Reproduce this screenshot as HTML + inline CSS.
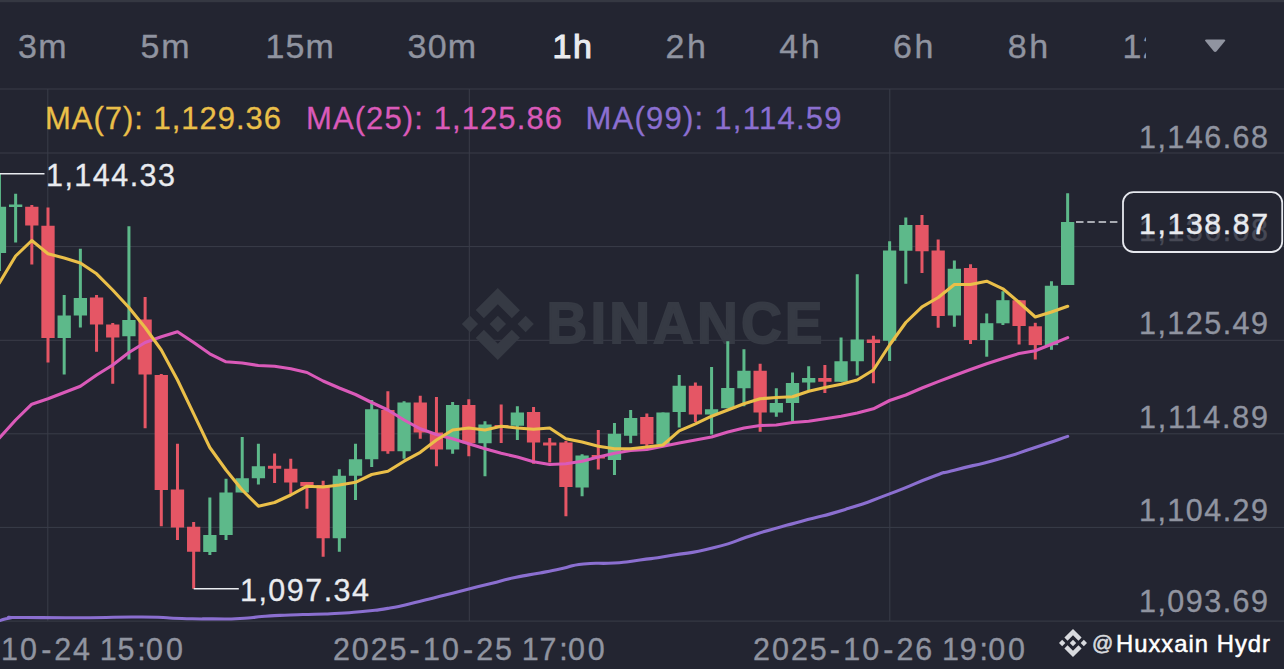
<!DOCTYPE html>
<html lang="en"><head><meta charset="utf-8"><title>Chart</title>
<style>
html,body{margin:0;padding:0;background:#232531;}
body{width:1284px;height:669px;overflow:hidden;}
svg{display:block}
text{font-family:"Liberation Sans",Arial,sans-serif;}
.ax{fill:#9094a0;font-size:30.5px;stroke:#9094a0;stroke-width:0.35px}
.tab{fill:#9094a0;font-size:34px;stroke:#9094a0;stroke-width:0.35px}
</style></head><body>
<svg width="1284" height="669" viewBox="0 0 1284 669">
<rect width="1284" height="669" fill="#232531"/>
<rect x="0" y="0" width="1284" height="2.2" fill="#353842"/>
<g stroke="#3a3d49" stroke-width="1" fill="none">
<line x1="0" y1="89" x2="1284" y2="89"/>
<line x1="0" y1="153.0" x2="1284" y2="153.0"/>
<line x1="0" y1="246.6" x2="1284" y2="246.6"/>
<line x1="0" y1="340.3" x2="1284" y2="340.3"/>
<line x1="0" y1="433.8" x2="1284" y2="433.8"/>
<line x1="0" y1="527.4" x2="1284" y2="527.4"/>
<line x1="0" y1="621.1" x2="1284" y2="621.1"/>
<line x1="47.8" y1="89" x2="47.8" y2="621.1"/>
<line x1="469.3" y1="89" x2="469.3" y2="621.1"/>
<line x1="889.8" y1="89" x2="889.8" y2="621.1"/>
</g>
<g fill="#363a44">
<g transform="translate(461.8,288) scale(0.56868)">
<path d="m38.73 53.2 24.59-24.58 24.6 24.6 14.3-14.31-38.9-38.91-38.9 38.9z"/><path d="m0 63.31 14.3-14.31 14.31 14.31-14.31 14.3z"/><path d="m38.73 73.41 24.59 24.59 24.6-24.6 14.31 14.29-38.9 38.91-38.91-38.88z"/><path d="m98 63.31 14.3-14.31 14.31 14.3-14.31 14.32z"/><path d="m77.83 63.3-14.51-14.52-14.51 14.51 14.51 14.5z"/>
</g>
<text id="wm" x="546.5" y="343.3" font-size="56.5" font-weight="bold" stroke="#363a44" stroke-width="1.8" textLength="276" lengthAdjust="spacing">BINANCE</text>
</g>
<g>
<rect x="-2.05" y="173.75" width="3.00" height="97.25" fill="#5db98a"/>
<rect x="-7.20" y="206.75" width="13.30" height="46.25" fill="#5db98a"/>
<rect x="14.13" y="193.75" width="3.00" height="48.75" fill="#5db98a"/>
<rect x="8.98" y="204.50" width="13.30" height="2.50" fill="#5db98a"/>
<rect x="30.32" y="205.00" width="3.00" height="59.50" fill="#e55665"/>
<rect x="25.16" y="206.75" width="13.30" height="18.75" fill="#e55665"/>
<rect x="46.50" y="207.50" width="3.00" height="155.00" fill="#e55665"/>
<rect x="41.35" y="225.75" width="13.30" height="112.25" fill="#e55665"/>
<rect x="62.69" y="295.00" width="3.00" height="79.50" fill="#5db98a"/>
<rect x="57.54" y="315.50" width="13.30" height="22.50" fill="#5db98a"/>
<rect x="78.87" y="248.75" width="3.00" height="78.75" fill="#5db98a"/>
<rect x="73.72" y="298.00" width="13.30" height="17.50" fill="#5db98a"/>
<rect x="95.05" y="295.00" width="3.00" height="56.75" fill="#e55665"/>
<rect x="89.90" y="297.50" width="13.30" height="27.00" fill="#e55665"/>
<rect x="111.24" y="323.00" width="3.00" height="60.75" fill="#e55665"/>
<rect x="106.09" y="324.50" width="13.30" height="13.00" fill="#e55665"/>
<rect x="127.43" y="226.25" width="3.00" height="133.25" fill="#5db98a"/>
<rect x="122.28" y="320.00" width="13.30" height="16.25" fill="#5db98a"/>
<rect x="143.61" y="297.00" width="3.00" height="131.25" fill="#e55665"/>
<rect x="138.46" y="319.50" width="13.30" height="55.00" fill="#e55665"/>
<rect x="159.79" y="374.00" width="3.00" height="152.25" fill="#e55665"/>
<rect x="154.64" y="375.00" width="13.30" height="115.00" fill="#e55665"/>
<rect x="175.98" y="443.75" width="3.00" height="96.25" fill="#e55665"/>
<rect x="170.83" y="489.50" width="13.30" height="38.00" fill="#e55665"/>
<rect x="192.16" y="522.00" width="3.00" height="66.75" fill="#e55665"/>
<rect x="187.01" y="526.75" width="13.30" height="25.00" fill="#e55665"/>
<rect x="208.35" y="497.50" width="3.00" height="57.50" fill="#5db98a"/>
<rect x="203.20" y="535.00" width="13.30" height="17.00" fill="#5db98a"/>
<rect x="224.53" y="478.75" width="3.00" height="61.25" fill="#5db98a"/>
<rect x="219.38" y="492.50" width="13.30" height="42.50" fill="#5db98a"/>
<rect x="240.72" y="437.00" width="3.00" height="55.50" fill="#5db98a"/>
<rect x="235.57" y="478.25" width="13.30" height="14.25" fill="#5db98a"/>
<rect x="256.90" y="443.75" width="3.00" height="40.75" fill="#5db98a"/>
<rect x="251.75" y="466.25" width="13.30" height="12.00" fill="#5db98a"/>
<rect x="273.09" y="453.50" width="3.00" height="29.50" fill="#e55665"/>
<rect x="267.94" y="465.75" width="13.30" height="3.00" fill="#e55665"/>
<rect x="289.27" y="458.75" width="3.00" height="35.00" fill="#e55665"/>
<rect x="284.12" y="468.75" width="13.30" height="13.75" fill="#e55665"/>
<rect x="305.46" y="482.00" width="3.00" height="26.75" fill="#e55665"/>
<rect x="300.31" y="482.00" width="13.30" height="4.25" fill="#e55665"/>
<rect x="321.64" y="480.75" width="3.00" height="76.00" fill="#e55665"/>
<rect x="316.50" y="485.00" width="13.30" height="53.25" fill="#e55665"/>
<rect x="337.83" y="469.25" width="3.00" height="82.50" fill="#5db98a"/>
<rect x="332.68" y="475.75" width="13.30" height="62.50" fill="#5db98a"/>
<rect x="354.01" y="443.75" width="3.00" height="56.25" fill="#5db98a"/>
<rect x="348.87" y="459.25" width="13.30" height="16.50" fill="#5db98a"/>
<rect x="370.20" y="400.00" width="3.00" height="67.00" fill="#5db98a"/>
<rect x="365.05" y="409.25" width="13.30" height="50.00" fill="#5db98a"/>
<rect x="386.38" y="391.25" width="3.00" height="62.50" fill="#e55665"/>
<rect x="381.24" y="410.00" width="13.30" height="41.25" fill="#e55665"/>
<rect x="402.57" y="401.25" width="3.00" height="57.50" fill="#5db98a"/>
<rect x="397.42" y="402.50" width="13.30" height="48.75" fill="#5db98a"/>
<rect x="418.75" y="395.75" width="3.00" height="43.00" fill="#e55665"/>
<rect x="413.61" y="402.50" width="13.30" height="30.00" fill="#e55665"/>
<rect x="434.94" y="397.00" width="3.00" height="69.25" fill="#e55665"/>
<rect x="429.79" y="432.50" width="13.30" height="17.00" fill="#e55665"/>
<rect x="451.12" y="402.00" width="3.00" height="51.75" fill="#5db98a"/>
<rect x="445.97" y="405.00" width="13.30" height="44.50" fill="#5db98a"/>
<rect x="467.31" y="399.25" width="3.00" height="57.00" fill="#e55665"/>
<rect x="462.16" y="405.00" width="13.30" height="38.25" fill="#e55665"/>
<rect x="483.49" y="421.25" width="3.00" height="55.00" fill="#5db98a"/>
<rect x="478.34" y="424.50" width="13.30" height="18.75" fill="#5db98a"/>
<rect x="499.68" y="404.50" width="3.00" height="38.50" fill="#e55665"/>
<rect x="494.53" y="425.00" width="13.30" height="1.60" fill="#e55665"/>
<rect x="515.87" y="406.25" width="3.00" height="33.75" fill="#5db98a"/>
<rect x="510.72" y="412.50" width="13.30" height="13.25" fill="#5db98a"/>
<rect x="532.05" y="407.00" width="3.00" height="56.75" fill="#e55665"/>
<rect x="526.90" y="412.00" width="13.30" height="30.50" fill="#e55665"/>
<rect x="548.23" y="438.00" width="3.00" height="24.50" fill="#e55665"/>
<rect x="543.08" y="442.50" width="13.30" height="3.00" fill="#e55665"/>
<rect x="564.42" y="441.00" width="3.00" height="75.25" fill="#e55665"/>
<rect x="559.27" y="442.50" width="13.30" height="44.50" fill="#e55665"/>
<rect x="580.60" y="454.25" width="3.00" height="42.00" fill="#5db98a"/>
<rect x="575.45" y="455.50" width="13.30" height="32.00" fill="#5db98a"/>
<rect x="596.79" y="430.00" width="3.00" height="39.50" fill="#e55665"/>
<rect x="591.64" y="455.00" width="13.30" height="3.50" fill="#e55665"/>
<rect x="612.97" y="423.00" width="3.00" height="52.00" fill="#5db98a"/>
<rect x="607.82" y="433.75" width="13.30" height="26.25" fill="#5db98a"/>
<rect x="629.16" y="410.00" width="3.00" height="33.25" fill="#5db98a"/>
<rect x="624.01" y="418.00" width="13.30" height="17.75" fill="#5db98a"/>
<rect x="645.34" y="413.50" width="3.00" height="33.50" fill="#e55665"/>
<rect x="640.19" y="417.00" width="13.30" height="27.25" fill="#e55665"/>
<rect x="661.53" y="412.50" width="3.00" height="31.75" fill="#5db98a"/>
<rect x="656.38" y="412.50" width="13.30" height="31.75" fill="#5db98a"/>
<rect x="677.71" y="375.00" width="3.00" height="52.50" fill="#5db98a"/>
<rect x="672.56" y="385.75" width="13.30" height="26.25" fill="#5db98a"/>
<rect x="693.90" y="382.50" width="3.00" height="39.50" fill="#e55665"/>
<rect x="688.75" y="385.75" width="13.30" height="28.75" fill="#e55665"/>
<rect x="710.08" y="367.00" width="3.00" height="67.50" fill="#5db98a"/>
<rect x="704.93" y="409.25" width="13.30" height="5.25" fill="#5db98a"/>
<rect x="726.27" y="341.25" width="3.00" height="67.00" fill="#5db98a"/>
<rect x="721.12" y="388.00" width="13.30" height="20.25" fill="#5db98a"/>
<rect x="742.45" y="349.25" width="3.00" height="57.00" fill="#5db98a"/>
<rect x="737.30" y="370.75" width="13.30" height="17.50" fill="#5db98a"/>
<rect x="758.64" y="363.75" width="3.00" height="68.00" fill="#e55665"/>
<rect x="753.49" y="370.75" width="13.30" height="41.75" fill="#e55665"/>
<rect x="774.82" y="388.25" width="3.00" height="28.50" fill="#5db98a"/>
<rect x="769.67" y="403.00" width="13.30" height="9.50" fill="#5db98a"/>
<rect x="791.01" y="372.50" width="3.00" height="48.75" fill="#5db98a"/>
<rect x="785.86" y="383.00" width="13.30" height="20.00" fill="#5db98a"/>
<rect x="807.19" y="366.25" width="3.00" height="23.75" fill="#5db98a"/>
<rect x="802.04" y="378.00" width="13.30" height="4.50" fill="#5db98a"/>
<rect x="823.38" y="365.00" width="3.00" height="28.00" fill="#e55665"/>
<rect x="818.23" y="378.00" width="13.30" height="3.75" fill="#e55665"/>
<rect x="839.56" y="337.50" width="3.00" height="44.25" fill="#5db98a"/>
<rect x="834.41" y="361.25" width="13.30" height="20.50" fill="#5db98a"/>
<rect x="855.75" y="274.25" width="3.00" height="101.25" fill="#5db98a"/>
<rect x="850.60" y="339.50" width="13.30" height="21.75" fill="#5db98a"/>
<rect x="871.93" y="335.75" width="3.00" height="47.50" fill="#e55665"/>
<rect x="866.78" y="339.50" width="13.30" height="3.50" fill="#e55665"/>
<rect x="888.12" y="241.25" width="3.00" height="119.75" fill="#5db98a"/>
<rect x="882.97" y="250.50" width="13.30" height="90.25" fill="#5db98a"/>
<rect x="904.30" y="217.50" width="3.00" height="66.25" fill="#5db98a"/>
<rect x="899.15" y="225.00" width="13.30" height="25.75" fill="#5db98a"/>
<rect x="920.49" y="215.00" width="3.00" height="58.00" fill="#e55665"/>
<rect x="915.34" y="225.00" width="13.30" height="26.25" fill="#e55665"/>
<rect x="936.67" y="239.50" width="3.00" height="88.25" fill="#e55665"/>
<rect x="931.52" y="250.50" width="13.30" height="65.50" fill="#e55665"/>
<rect x="952.86" y="260.50" width="3.00" height="66.25" fill="#5db98a"/>
<rect x="947.71" y="268.75" width="13.30" height="46.75" fill="#5db98a"/>
<rect x="969.04" y="264.25" width="3.00" height="79.75" fill="#e55665"/>
<rect x="963.89" y="268.00" width="13.30" height="72.00" fill="#e55665"/>
<rect x="985.23" y="313.50" width="3.00" height="43.20" fill="#5db98a"/>
<rect x="980.08" y="323.20" width="13.30" height="16.80" fill="#5db98a"/>
<rect x="1001.41" y="291.25" width="3.00" height="33.75" fill="#5db98a"/>
<rect x="996.26" y="300.20" width="13.30" height="23.10" fill="#5db98a"/>
<rect x="1017.60" y="300.00" width="3.00" height="44.50" fill="#e55665"/>
<rect x="1012.45" y="300.30" width="13.30" height="25.70" fill="#e55665"/>
<rect x="1033.78" y="322.80" width="3.00" height="36.70" fill="#e55665"/>
<rect x="1028.63" y="326.30" width="13.30" height="18.80" fill="#e55665"/>
<rect x="1049.97" y="281.25" width="3.00" height="68.55" fill="#5db98a"/>
<rect x="1044.82" y="285.75" width="13.30" height="59.35" fill="#5db98a"/>
<rect x="1066.15" y="193.25" width="3.00" height="91.75" fill="#5db98a"/>
<rect x="1061.00" y="222.00" width="13.30" height="63.00" fill="#5db98a"/>
</g>
<path d="M-2.0 621.0 C-1.3 620.8 -4.0 621.5 0.0 620.5 C4.0 619.5 3.3 619.0 10.0 618.0 C16.7 617.0 -3.7 617.6 20.0 617.5 C43.7 617.4 40.3 617.9 81.0 617.7 C121.7 617.5 108.3 616.7 142.0 617.0 C175.7 617.3 158.5 617.9 182.0 618.5 C205.5 619.1 193.3 618.9 212.6 618.9 C231.9 618.9 222.5 619.4 240.0 618.5 C257.5 617.6 248.3 617.5 265.0 616.3 C281.7 615.1 273.3 615.7 290.0 615.0 C306.7 614.3 298.3 614.8 315.0 614.2 C331.7 613.7 323.3 614.2 340.0 613.2 C356.7 612.2 348.3 613.0 365.0 611.2 C381.7 609.5 373.3 610.9 390.0 608.0 C406.7 605.1 398.3 606.4 415.0 602.5 C431.7 598.6 423.3 600.4 440.0 596.2 C456.7 592.1 448.3 594.2 465.0 590.0 C481.7 585.8 473.3 587.9 490.0 583.8 C506.7 579.6 498.3 581.1 515.0 577.5 C531.7 573.9 524.7 575.9 540.0 573.0 C555.3 570.1 546.5 571.8 561.0 568.8 C575.5 565.8 565.9 565.9 583.6 564.0 C601.3 562.1 595.2 564.3 614.0 563.0 C632.8 561.7 621.1 562.5 640.0 560.0 C658.9 557.5 646.0 559.7 670.8 555.5 C695.6 551.3 685.3 554.9 714.4 547.5 C743.5 540.1 728.9 542.2 758.0 533.4 C787.1 524.6 772.6 529.2 801.7 521.2 C830.8 513.2 816.2 518.4 845.3 509.4 C874.4 500.4 859.8 505.0 888.9 494.1 C918.0 483.2 910.7 484.7 932.5 476.7 C954.3 468.7 932.5 476.0 954.3 470.2 C976.1 464.4 971.8 466.5 998.0 459.2 C1024.2 451.9 1009.6 455.9 1032.8 448.3 C1056.0 440.7 1056.1 440.4 1067.7 436.4" fill="none" stroke="#8b6fd0" stroke-width="3.1" stroke-linejoin="round" stroke-linecap="round"/>
<polyline points="-0.6,438.0 15.6,420.0 31.8,404.2 48.0,398.8 64.2,392.5 80.4,386.2 96.6,375.0 112.7,365.0 128.9,352.5 145.1,342.5 161.3,336.8 177.5,331.8 193.7,342.5 209.8,353.8 226.0,361.8 242.2,363.0 258.4,365.5 274.6,366.2 290.8,368.8 307.0,372.5 323.1,381.0 339.3,388.0 355.5,394.5 371.7,402.5 387.9,410.0 404.1,420.0 420.3,428.8 436.4,434.5 452.6,438.8 468.8,443.8 485.0,448.8 501.2,453.2 517.4,457.0 533.5,461.8 549.7,464.5 565.9,463.8 582.1,461.2 598.3,457.0 614.5,453.2 630.7,450.5 646.8,449.5 663.0,446.2 679.2,443.0 695.4,440.0 711.6,437.0 727.8,432.0 744.0,428.0 760.1,425.5 776.3,425.0 792.5,422.5 808.7,421.2 824.9,418.8 841.1,416.2 857.2,413.0 873.4,408.8 889.6,400.5 905.8,395.0 922.0,388.0 938.2,381.6 954.4,375.5 970.5,369.5 986.7,363.8 1002.9,358.5 1019.1,353.5 1035.3,350.7 1051.5,344.2 1067.7,337.6" fill="none" stroke="#da5ab9" stroke-width="3.1" stroke-linejoin="round" stroke-linecap="round"/>
<polyline points="-0.6,283.0 15.6,256.0 31.8,240.5 48.0,253.8 64.2,258.0 80.4,263.0 96.6,273.8 112.7,290.0 128.9,307.5 145.1,327.5 161.3,350.0 177.5,380.0 193.7,413.8 209.8,447.5 226.0,470.0 242.2,490.0 258.4,506.2 274.6,502.5 290.8,495.0 307.0,486.2 323.1,487.0 339.3,485.0 355.5,482.3 371.7,474.5 387.9,471.2 404.1,461.2 420.3,452.3 436.4,440.0 452.6,430.0 468.8,428.0 485.0,430.0 501.2,426.2 517.4,428.0 533.5,429.2 549.7,428.0 565.9,438.8 582.1,442.0 598.3,446.2 614.5,448.8 630.7,448.8 646.8,447.0 663.0,445.0 679.2,430.8 695.4,423.8 711.6,416.2 727.8,410.0 744.0,403.8 760.1,398.8 776.3,397.5 792.5,396.8 808.7,391.2 824.9,387.5 841.1,384.2 857.2,380.0 873.4,370.0 889.6,345.0 905.8,322.5 922.0,306.8 938.2,297.5 954.4,284.5 970.5,284.5 986.7,281.2 1002.9,288.8 1019.1,302.5 1035.3,317.0 1051.5,312.0 1067.7,306.3" fill="none" stroke="#eabf49" stroke-width="3.1" stroke-linejoin="round" stroke-linecap="round"/>
<g stroke="#e9ebef" stroke-width="1.5"><line x1="0" y1="173.7" x2="44.5" y2="173.7"/><line x1="193.7" y1="588.8" x2="238.8" y2="588.8"/></g>
<text id="hi" stroke="#e9ebef" stroke-width="0.3" x="46" y="186" font-size="30.5" fill="#e9ebef" textLength="129" lengthAdjust="spacing">1,144.33</text>
<text id="lo" stroke="#e9ebef" stroke-width="0.3" x="240" y="601" font-size="30.5" fill="#e9ebef" textLength="129" lengthAdjust="spacing">1,097.34</text>
<text class="tab" x="18.0" y="58.4" letter-spacing="1.3">3m</text>
<text class="tab" x="140.5" y="58.4" letter-spacing="1.8">5m</text>
<text class="tab" x="265.5" y="58.4" letter-spacing="1.05">15m</text>
<text class="tab" x="407.5" y="58.4" letter-spacing="1.25">30m</text>
<text class="tab" x="665.5" y="58.4" letter-spacing="2.5">2h</text>
<text class="tab" x="779.25" y="58.4" letter-spacing="2.5">4h</text>
<text class="tab" x="893.0" y="58.4" letter-spacing="2.5">6h</text>
<text class="tab" x="1007.75" y="58.4" letter-spacing="2.5">8h</text>
<text x="552.6" y="58.4" font-size="34" fill="#e9ebef" stroke="#e9ebef" stroke-width="1.1" letter-spacing="1.6">1h</text>
<clipPath id="c12"><rect x="1100" y="0" width="46" height="88"/></clipPath>
<text class="tab" x="1122.5" y="58.4" letter-spacing="1.2" clip-path="url(#c12)">12h</text>
<path d="M1206.5 39.5 L1223.8 39.5 Q1226.3 39.5 1224.6 41.6 L1216.6 51.2 Q1215.1 52.8 1213.7 51.2 L1205.7 41.6 Q1204 39.5 1206.5 39.5 Z" fill="#9094a0"/>
<text stroke-width="0.3" stroke="#eabf49" id="l1" x="45" y="128.7" font-size="31" fill="#eabf49" textLength="236" lengthAdjust="spacing">MA(7): 1,129.36</text>
<text stroke-width="0.3" stroke="#da5ab9" id="l2" x="306" y="128.7" font-size="31" fill="#da5ab9" textLength="256" lengthAdjust="spacing">MA(25): 1,125.86</text>
<text stroke-width="0.3" stroke="#8b6fd0" id="l3" x="585.5" y="128.7" font-size="31" fill="#8b6fd0" textLength="256" lengthAdjust="spacing">MA(99): 1,114.59</text>
<text class="ax" x="1139" y="147.5" textLength="129" lengthAdjust="spacing">1,146.68</text>
<text class="ax" x="1139" y="334" textLength="129" lengthAdjust="spacing">1,125.49</text>
<text class="ax" x="1139" y="427.8" textLength="129" lengthAdjust="spacing">1,114.89</text>
<text class="ax" x="1139" y="520.6" textLength="129" lengthAdjust="spacing">1,104.29</text>
<text class="ax" x="1139" y="611.8" textLength="129" lengthAdjust="spacing">1,093.69</text>
<line x1="1076" y1="222" x2="1120" y2="222" stroke="#d5d8dd" stroke-width="1.4" stroke-dasharray="7.5 3.8"/>
<rect x="1123" y="192.2" width="159.2" height="59.8" rx="10.5" ry="10.5" fill="#232531" stroke="#e6e8ee" stroke-width="1.8"/>
<text class="ax" x="1139" y="240.7" textLength="129" lengthAdjust="spacing" opacity="0.33">1,136.08</text>
<text x="1139" y="233.6" font-size="30.2" fill="#e9ebef" stroke="#e9ebef" stroke-width="0.45" textLength="129" lengthAdjust="spacing">1,138.87</text>
<text class="ax" x="-89.0 -70.1 -51.2 -32.3 -12.3 1.1 20.1 41.2 54.3 73.1 92.0 99.8 117.6 137.3 146.1 165.9" y="660.3">2025-10-24 15:00</text>
<text class="ax" x="332.9 351.8 370.7 389.6 409.6 423.0 442.0 463.1 476.2 495.0 513.9 521.8 539.5 559.2 568.0 587.8" y="660.3">2025-10-25 17:00</text>
<text class="ax" x="753.1 772.0 790.9 809.8 829.8 843.2 862.2 883.3 896.4 915.2 934.1 942.0 959.7 979.4 988.2 1008.0" y="660.3">2025-10-26 19:00</text>
<g fill="#d8dade" transform="translate(1059,629) scale(0.22115)">
<path d="m38.73 53.2 24.59-24.58 24.6 24.6 14.3-14.31-38.9-38.91-38.9 38.9z"/><path d="m0 63.31 14.3-14.31 14.31 14.31-14.31 14.3z"/><path d="m38.73 73.41 24.59 24.59 24.6-24.6 14.31 14.29-38.9 38.91-38.91-38.88z"/><path d="m98 63.31 14.3-14.31 14.31 14.3-14.31 14.32z"/><path d="m77.83 63.3-14.51-14.52-14.51 14.51 14.51 14.5z"/>
</g>
<text x="1092" y="649.6" font-size="21" fill="#d8dade" stroke="#d8dade" stroke-width="0.6">@</text>
<text x="1116" y="652" font-size="23.8" fill="#ffffff" stroke="#ffffff" stroke-width="0.5" textLength="154" lengthAdjust="spacing">Huxxain Hydr</text>
</svg>
</body></html>
